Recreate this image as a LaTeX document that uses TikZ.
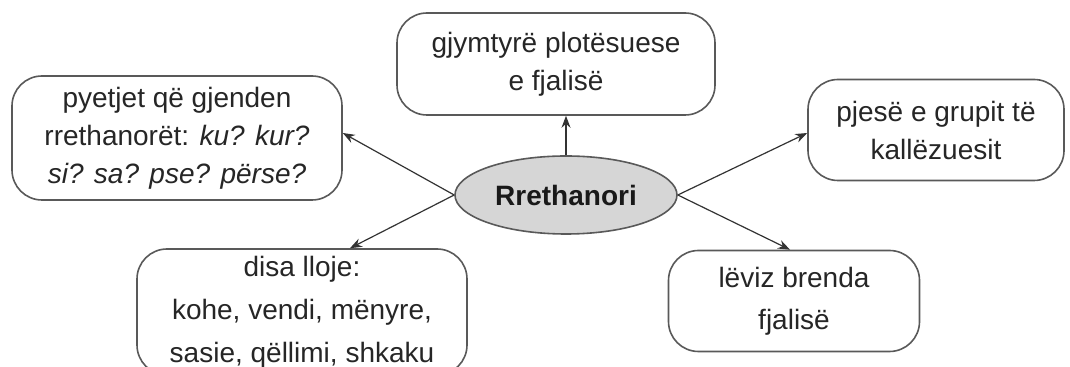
\documentclass[tikz,border=0pt]{standalone}
\usepackage{fontspec}
\setmainfont{Liberation Sans}
\usetikzlibrary{calc}
\usetikzlibrary{positioning}
\usetikzlibrary{arrows.meta}
\usetikzlibrary{shapes.geometric}

\begin{document}
\begin{tikzpicture}[%
  >={Stealth[length=6pt,width=4.5pt]},
  x=0.5pt, y=-0.5pt,
  box/.style={draw=black!65, line width=0.8pt, rounded corners=15pt, fill=white,
    align=center, text=black!85, inner sep=0pt,
    font=\fontsize{14}{19}\selectfont},
  hub/.style={ellipse, draw=black!65, line width=0.8pt, fill=black!16,
    text=black!90, inner sep=0pt, minimum width=111pt, minimum height=39pt,
    font=\bfseries\fontsize{14}{19}\selectfont},
  link/.style={->, draw=black!80, line width=0.6pt}
]

  \clip (0,0) rectangle (1070,367);
  \fill[white] (0,0) rectangle (1070,367);

  \node[hub] (hub) at (566,195) {Rrethanori};

  \node[box, minimum width=159pt, minimum height=51pt] (top) at (556,64)
    {gjymtyrë plotësuese\\e fjalisë};
  \node[box, minimum width=165pt, minimum height=62pt] (left) at (177,138)
    {pyetjet që gjenden\\rrethanorët: \textit{ku? kur?}\\\textit{si? sa? pse? përse?}};
  \node[box, minimum width=128pt, minimum height=50.5pt] (right) at (936,130)
    {pjesë e grupit të\\kallëzuesit};
  \node[box, minimum width=165pt, minimum height=63pt,
    font=\fontsize{14}{21.5}\selectfont] (kinds) at (302,312)
    {disa lloje:\\kohe, vendi, mënyre,\\sasie, qëllimi, shkaku};
  \node[box, minimum width=125.5pt, minimum height=50.5pt,
    font=\fontsize{14}{21}\selectfont] (moves) at (794,301)
    {lëviz brenda\\fjalisë};

  % connectors
  \draw[link] (hub.north) -- (hub.north |- top.south);
  \draw[link] (hub.west) -- ([yshift=2.5pt]left.east);
  \draw[link] (hub.west) -- ([xshift=24pt]kinds.north);
  \draw[link] (hub.east) -- ([yshift=-1.5pt]right.west);
  \draw[link] (hub.east) -- ([xshift=-2pt]moves.north);

\end{tikzpicture}
\end{document}
